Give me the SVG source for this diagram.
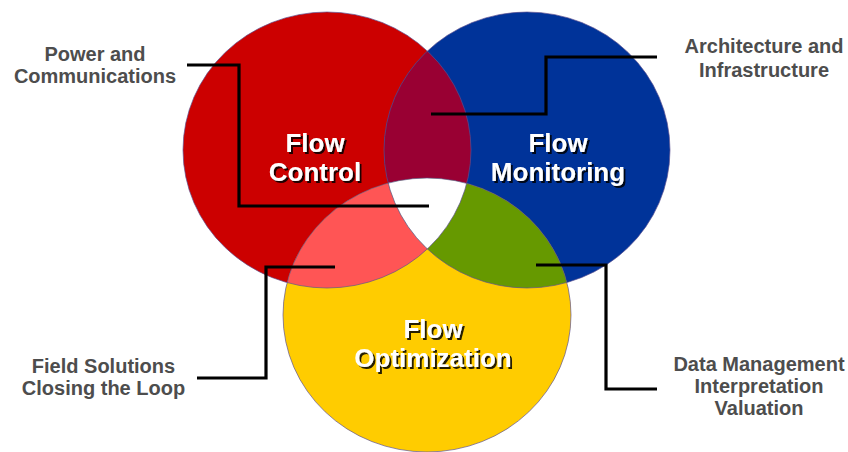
<svg xmlns="http://www.w3.org/2000/svg" width="848" height="452" viewBox="0 0 848 452">
  <style>
    .callout { font-family: "Liberation Sans", Arial, sans-serif; font-weight: bold; font-size: 20px; fill: #4d4d4d; text-anchor: middle; }
    .title { font-family: "Liberation Sans", Arial, sans-serif; font-weight: bold; font-size: 26px; fill: #ffffff; text-anchor: middle; filter: url(#shadow); }
    .edge { fill: none; stroke: #5b4f8f; stroke-width: 0.9; stroke-opacity: 0.75; }
    .leader { fill: none; stroke: #000000; stroke-width: 3.2; stroke-linejoin: miter; stroke-linecap: butt; }
  </style>
  <defs>
    <ellipse id="shapeControl" cx="327" cy="150" rx="144" ry="138"/>
    <ellipse id="shapeMonitoring" cx="527" cy="150" rx="143" ry="138"/>
    <ellipse id="shapeOptimization" cx="427" cy="315" rx="144" ry="137"/>
    <clipPath id="clipControl"><use href="#shapeControl"/></clipPath>
    <clipPath id="clipMonitoring"><use href="#shapeMonitoring"/></clipPath>
    <filter id="shadow" x="-10%" y="-20%" width="130%" height="150%">
      <feDropShadow dx="2" dy="2" stdDeviation="0.6" flood-color="#000000" flood-opacity="0.85"/>
    </filter>
  </defs>

  <rect width="848" height="452" fill="#ffffff"/>

  <!-- base circles -->
  <g id="circle-control"><use href="#shapeControl" fill="#cc0000"/></g>
  <g id="circle-monitoring"><use href="#shapeMonitoring" fill="#003399"/></g>
  <g id="circle-optimization"><use href="#shapeOptimization" fill="#ffcc00"/></g>

  <!-- pairwise and triple overlaps -->
  <g id="overlaps">
    <g clip-path="url(#clipControl)"><use href="#shapeMonitoring" fill="#990033"/></g>
    <g clip-path="url(#clipControl)"><use href="#shapeOptimization" fill="#ff5555"/></g>
    <g clip-path="url(#clipMonitoring)"><use href="#shapeOptimization" fill="#669900"/></g>
    <g clip-path="url(#clipControl)"><g clip-path="url(#clipMonitoring)"><use href="#shapeOptimization" fill="#ffffff"/></g></g>
  </g>

  <!-- thin outlines -->
  <g id="outlines">
    <use href="#shapeControl" class="edge"/>
    <use href="#shapeMonitoring" class="edge"/>
    <use href="#shapeOptimization" class="edge"/>
  </g>

  <!-- circle titles -->
  <g id="title-control">
    <text class="title" x="315" y="152">Flow</text>
    <text class="title" x="315" y="181">Control</text>
  </g>
  <g id="title-monitoring">
    <text class="title" x="558" y="152">Flow</text>
    <text class="title" x="558" y="181">Monitoring</text>
  </g>
  <g id="title-optimization">
    <text class="title" x="433" y="338">Flow</text>
    <text class="title" x="433" y="367">Optimization</text>
  </g>

  <!-- leader lines -->
  <g id="connectors">
    <polyline class="leader" points="187,65 239,65 239,206 429,206"/>
    <polyline class="leader" points="657,57 546,57 546,114 431,114"/>
    <polyline class="leader" points="335,267 266,267 266,378 197,378"/>
    <polyline class="leader" points="536,265 606,265 606,389 657,389"/>
  </g>

  <!-- callout labels -->
  <g id="label-power">
    <text class="callout" x="95" y="61">Power and</text>
    <text class="callout" x="95" y="83">Communications</text>
  </g>
  <g id="label-architecture">
    <text class="callout" x="764" y="53">Architecture and</text>
    <text class="callout" x="764" y="77">Infrastructure</text>
  </g>
  <g id="label-field">
    <text class="callout" x="103.5" y="373">Field Solutions</text>
    <text class="callout" x="103.5" y="395">Closing the Loop</text>
  </g>
  <g id="label-data">
    <text class="callout" x="759" y="371">Data Management</text>
    <text class="callout" x="759" y="393">Interpretation</text>
    <text class="callout" x="759" y="415">Valuation</text>
  </g>
</svg>
